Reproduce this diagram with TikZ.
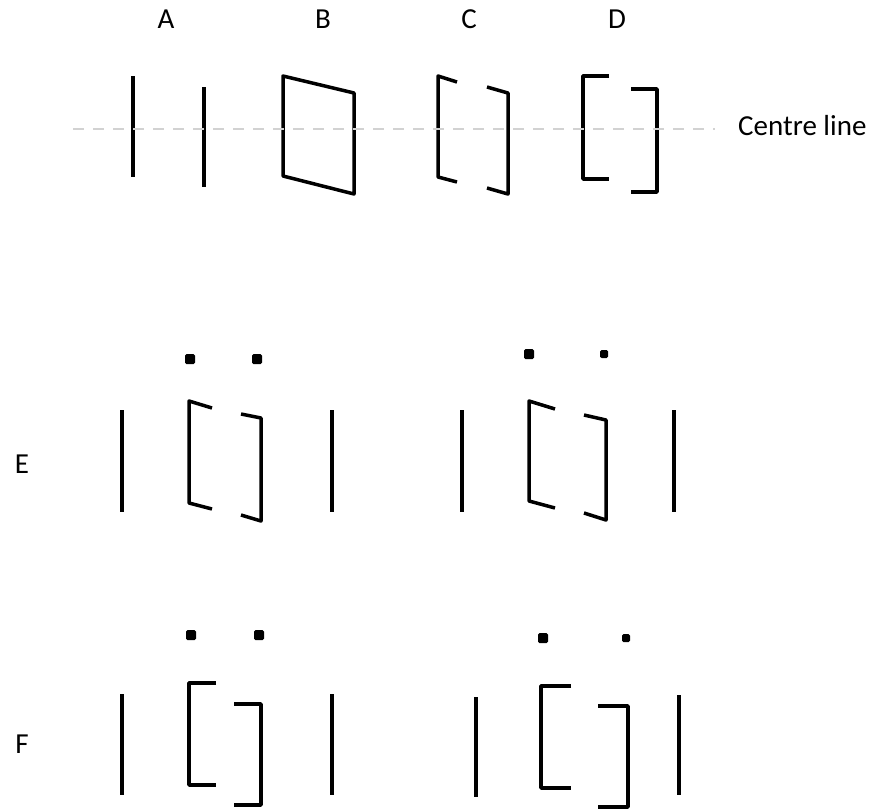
\documentclass[tikz,border=0pt]{standalone}
\usepackage{fontspec}
\setmainfont{Carlito}
\usetikzlibrary{positioning}

\begin{document}
\begin{tikzpicture}[x=1pt,y=-1pt,
  elem/.style={line width=3.5pt, line join=round},
  lbl/.style={inner sep=0pt, font=\fontsize{29}{35}\selectfont},
  centreline/.style={gray!35, line width=1.5pt, dash pattern=on 11pt off 9pt}]
\useasboundingbox (0,0) rectangle (871,809);

% Column labels
\node[lbl] (labA) at (166,19.5) {A};
\node[lbl] (labB) at (323,19.5) {B};
\node[lbl] (labC) at (469,19.5) {C};
\node[lbl] (labD) at (617,19.5) {D};
\node[lbl, anchor=west] (labCL) at (738,126) {Centre line};

% Row labels
\node[lbl] (labE) at (22,464) {E};
\node[lbl] (labF) at (22,744) {F};

% Top row: A, two thin elements
\draw[elem] (133,76) -- (133,177);
\draw[elem] (204,87) -- (204,187);

% B, closed box
\draw[elem] (283,76) -- (354,93) -- (354,194) -- (283,176) -- cycle;

% C, tilted brackets
\draw[elem] (457,82) -- (438,76) -- (438,177) -- (457,182);
\draw[elem] (487,87) -- (508,93) -- (508,194) -- (487,188);

% D, square brackets
\draw[elem] (609,76) -- (583,76) -- (583,179) -- (609,179);
\draw[elem] (631,89) -- (657,89) -- (657,192) -- (631,192);

% Row E, left group
\draw[elem] (122,410) -- (122,512);
\draw[elem] (332,410) -- (332,512);
\fill[rounded corners=1.5pt] (185,354) rectangle (195,364);
\fill[rounded corners=1.5pt] (252,354) rectangle (262,364);
\draw[elem] (212,408) -- (189,401) -- (189,503) -- (212,509);
\draw[elem] (241,414) -- (261,418) -- (261,521) -- (241,515);

% Row E, right group
\draw[elem] (462,410) -- (462,512);
\draw[elem] (674,410) -- (674,512);
\fill[rounded corners=1.5pt] (524,349) rectangle (534,359);
\fill[rounded corners=1.5pt] (600,350) rectangle (608,358);
\draw[elem] (555,409) -- (529,401) -- (529,501) -- (555,508);
\draw[elem] (584,415) -- (606,420) -- (606,520) -- (584,513);

% Row F, left group
\draw[elem] (122,694) -- (122,795);
\draw[elem] (332,694) -- (332,795);
\fill[rounded corners=1.5pt] (186,630) rectangle (196,640);
\fill[rounded corners=1.5pt] (254,630) rectangle (264,640);
\draw[elem] (216,683) -- (189,683) -- (189,785) -- (216,785);
\draw[elem] (234,704) -- (261,704) -- (261,805) -- (234,805);

% Row F, right group
\draw[elem] (476,697) -- (476,797);
\draw[elem] (679,695) -- (679,795);
\fill[rounded corners=1.5pt] (538,633) rectangle (548,643);
\fill[rounded corners=1.5pt] (622,634) rectangle (630,642);
\draw[elem] (571,686) -- (541,686) -- (541,788) -- (571,788);
\draw[elem] (598,706) -- (628,706) -- (628,807) -- (598,807);

% Centre line on top
\draw[centreline] (73,129) -- (715,129);

\end{tikzpicture}
\end{document}
